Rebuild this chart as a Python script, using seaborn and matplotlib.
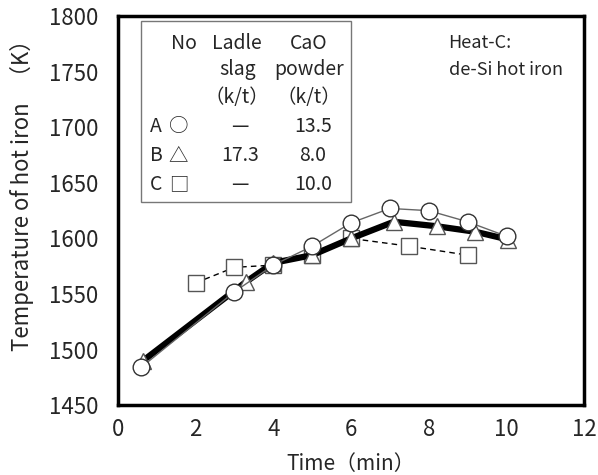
import numpy as np
import pandas as pd
import matplotlib
matplotlib.use("Agg")
import matplotlib.pyplot as plt
import seaborn as sns
from matplotlib.patches import Rectangle

sns.set_style("white")
plt.rcParams["font.family"] = ["Noto Sans CJK JP", "DejaVu Sans"]

# ---- data ----
a_time = [0.6, 3.0, 4.0, 5.0, 6.0, 7.0, 8.0, 9.0, 10.0]
a_temp = [1484, 1552, 1576, 1593, 1614, 1627, 1625, 1615, 1602]

b_time = [0.65, 3.3, 4.0, 5.0, 6.0, 7.1, 8.2, 9.2, 10.05]
b_temp = [1490, 1561, 1578, 1585, 1600, 1615, 1611, 1606, 1599]

c_time = [2.0, 3.0, 4.0, 5.0, 6.0, 7.5, 9.0]
c_temp = [1560, 1574, 1576, 1585, 1600, 1593, 1585]

x_ticks = [0, 2, 4, 6, 8, 10, 12]
y_ticks = [1450, 1500, 1550, 1600, 1650, 1700, 1750, 1800]

table_rows = [["A", "○", "—", "13.5"],
              ["B", "△", "17.3", "8.0"],
              ["C", "□", "—", "10.0"]]

fig = plt.figure(figsize=(5.98, 4.75), dpi=100)
ax = fig.add_axes([0.197, 0.147, 0.780, 0.819])

edge = "#555555"
# B: thick black line with triangles
sns.lineplot(x=b_time, y=b_temp, ax=ax, color="black", lw=4.5, marker="^",
             markersize=12, markerfacecolor="white", markeredgecolor=edge,
             markeredgewidth=1.0, zorder=3)
# C: dashed with squares
sns.lineplot(x=c_time, y=c_temp, ax=ax, color="black", lw=1.0, marker="s",
             markersize=11.5, markerfacecolor="white", markeredgecolor=edge,
             markeredgewidth=1.0, zorder=2)
ax.lines[-1].set_dashes((4, 3))
# A: thin line with circles
sns.lineplot(x=a_time, y=a_temp, ax=ax, color="#666666", lw=1.0, marker="o",
             markersize=12, markerfacecolor="white", markeredgecolor="#333333",
             markeredgewidth=1.0, zorder=4)

ax.set_xlim(0, 12)
ax.set_ylim(1450, 1800)
ax.set_xticks(x_ticks)
ax.set_yticks(y_ticks)
ax.tick_params(direction="in", length=5, width=1, labelsize=16)
ax.tick_params(axis="y", pad=14)
ax.tick_params(axis="x", pad=9)
for s in ax.spines.values():
    s.set_linewidth(2.5)
    s.set_color("black")
ax.set_xlabel("Time（min）", fontsize=15)
ax.xaxis.set_label_coords(0.5, -0.122)
ax.set_ylabel("Temperature of hot iron   （K）", fontsize=16)
ax.yaxis.set_label_coords(-0.18, 0.555)

# inset table (legend)
ax.add_patch(Rectangle((0.050, 0.522), 0.450, 0.466, transform=ax.transAxes,
                       fill=False, edgecolor="#777777", lw=1.0, zorder=5))
fs = 14
hdr = dict(transform=ax.transAxes, fontsize=fs, ha="center", va="center", zorder=6)
ax.text(0.142, 0.930, "No", **hdr)
ax.text(0.256, 0.930, "Ladle", **hdr)
ax.text(0.410, 0.930, "CaO", **hdr)
ax.text(0.256, 0.862, "slag", **hdr)
ax.text(0.410, 0.862, "powder", **hdr)
ax.text(0.256, 0.791, "（k/t）", **hdr)
ax.text(0.410, 0.791, "（k/t）", **hdr)
row_y = [0.716, 0.641, 0.566]
for (lab, sym, slag, cao), yy in zip(table_rows, row_y):
    ax.text(0.082, yy, lab, **hdr)
    ax.text(0.130, yy, sym, **hdr)
    ax.text(0.262, yy, slag, **hdr)
    ax.text(0.418, yy, cao, **hdr)

ax.text(0.709, 0.930, "Heat-C:", transform=ax.transAxes, fontsize=13,
        ha="left", va="center")
ax.text(0.709, 0.862, "de-Si hot iron", transform=ax.transAxes, fontsize=13,
        ha="left", va="center")

plt.savefig("out.png", dpi=100)
plt.close()
